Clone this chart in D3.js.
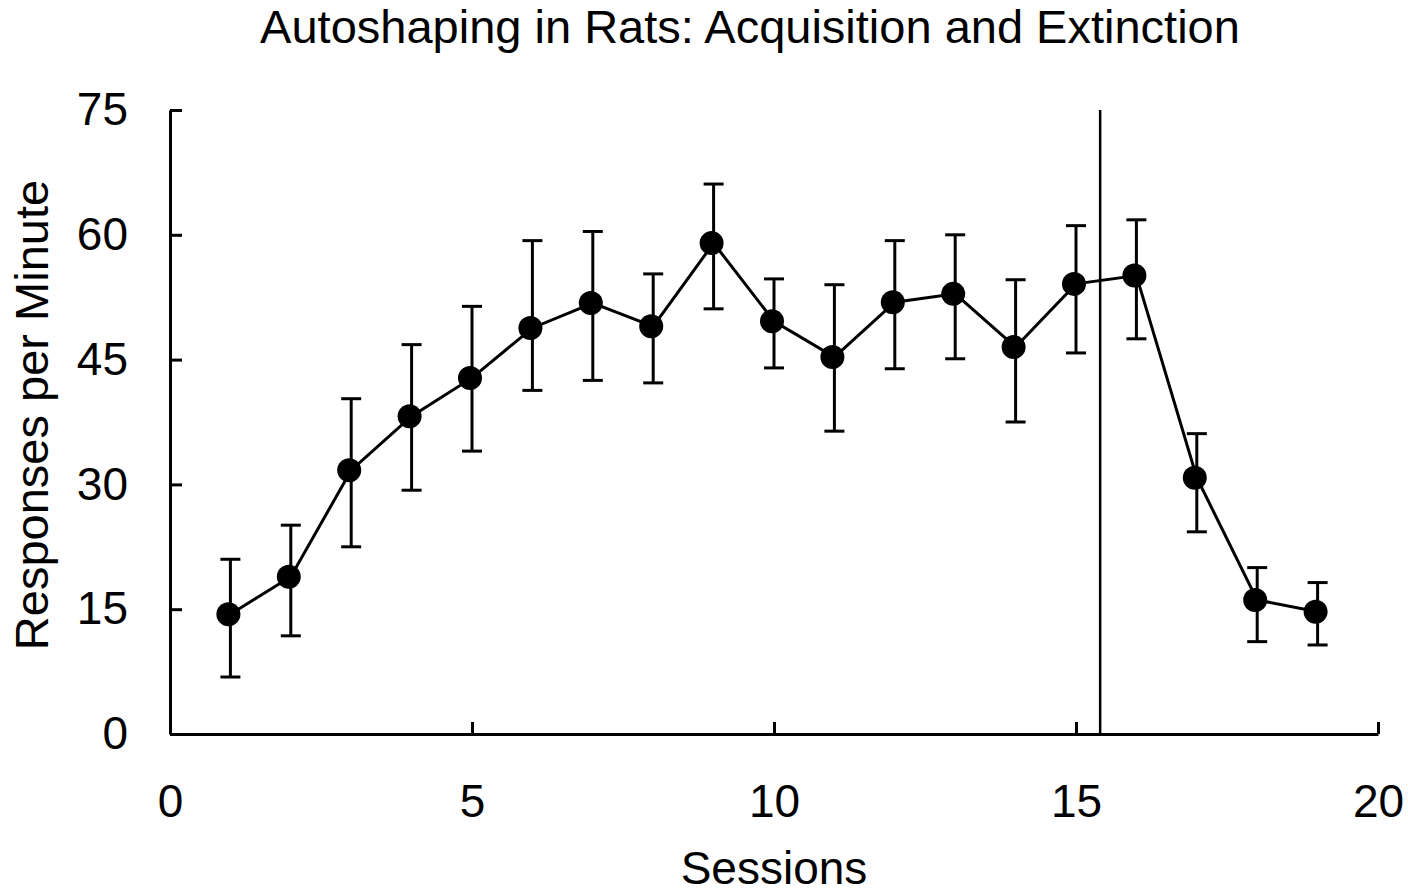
<!DOCTYPE html>
<html>
<head>
<meta charset="utf-8">
<script src="https://cdn.jsdelivr.net/npm/d3@7"></script>
<style>
  body { margin: 0; background: #fff; }
  text { font-family: "Liberation Sans", Arial, sans-serif; fill: #000; }
</style>
</head>
<body>
<svg id="chart" width="1408" height="895"></svg>
<script>
// data
var sessions = [1, 2, 3, 4, 5, 6, 7, 8, 9, 10, 11, 12, 13, 14, 15, 16, 17, 18, 19];
var meanRate = [14.4, 18.9, 31.7, 38.2, 42.8, 48.8, 51.8, 49.0, 59.0, 49.6, 45.3, 51.9, 52.9, 46.5, 54.1, 55.1, 30.8, 16.1, 14.7];
var errHigh  = [21.0, 25.1, 40.3, 46.8, 51.4, 59.3, 60.4, 55.3, 66.1, 54.7, 54.0, 59.3, 60.0, 54.6, 61.1, 61.8, 36.1, 20.0, 18.2];
var errLow   = [6.85, 11.8, 22.5, 29.3, 34.0, 41.3, 42.5, 42.2, 51.1, 44.0, 36.4, 43.9, 45.1, 37.5, 45.8, 47.5, 24.3, 11.1, 10.7];
var xTicks = [0, 5, 10, 15, 20];
var yTicks = [0, 15, 30, 45, 60, 75];
var phaseBreak = 15.4; // acquisition -> extinction

var data = sessions.map(function(s, i) {
  return { session: s, mean: meanRate[i], hi: errHigh[i], lo: errLow[i] };
});

var svg = d3.select("#chart");
var margin = { top: 110, right: 30, bottom: 161, left: 170 };
var width = 1408 - margin.left - margin.right;
var height = 895 - margin.top - margin.bottom;

var x = d3.scaleLinear().domain([0, 20]).range([0, width]);
var y = d3.scaleLinear().domain([0, 75]).range([height, 0]);

var g = svg.append("g")
  .attr("transform", "translate(" + margin.left + "," + margin.top + ")");

// axes, ticks pointing inward
var yAxis = g.append("g")
  .call(d3.axisLeft(y).tickValues(yTicks).tickSizeInner(-12).tickSizeOuter(0).tickPadding(42));
var xAxis = g.append("g")
  .attr("transform", "translate(0," + height + ")")
  .call(d3.axisBottom(x).tickValues(xTicks).tickSizeInner(-12).tickSizeOuter(0).tickPadding(50));

[yAxis, xAxis].forEach(function(ax) {
  ax.select(".domain").attr("stroke", "#000").attr("stroke-width", 3);
  ax.selectAll(".tick line").attr("stroke", "#000").attr("stroke-width", 3);
  ax.selectAll(".tick text")
    .attr("font-family", "Liberation Sans, Arial, sans-serif")
    .attr("font-size", 46)
    .attr("fill", "#000");
});

// vertical phase line
g.append("line")
  .attr("x1", x(phaseBreak)).attr("x2", x(phaseBreak))
  .attr("y1", y(75)).attr("y2", y(0))
  .attr("stroke", "#000")
  .attr("stroke-width", 2.5);

// error bars
var eb = g.append("g").attr("stroke", "#000").attr("stroke-width", 3);
eb.selectAll(".err")
  .data(data)
  .enter().append("line")
  .attr("x1", function(d) { return x(d.session); })
  .attr("x2", function(d) { return x(d.session); })
  .attr("y1", function(d) { return y(d.hi); })
  .attr("y2", function(d) { return y(d.lo); });
eb.selectAll(".cap-hi")
  .data(data)
  .enter().append("line")
  .attr("x1", function(d) { return x(d.session) - 10; })
  .attr("x2", function(d) { return x(d.session) + 10; })
  .attr("y1", function(d) { return y(d.hi); })
  .attr("y2", function(d) { return y(d.hi); });
eb.selectAll(".cap-lo")
  .data(data)
  .enter().append("line")
  .attr("x1", function(d) { return x(d.session) - 10; })
  .attr("x2", function(d) { return x(d.session) + 10; })
  .attr("y1", function(d) { return y(d.lo); })
  .attr("y2", function(d) { return y(d.lo); });

// connecting line
var line = d3.line()
  .x(function(d) { return x(d.session); })
  .y(function(d) { return y(d.mean); });
g.append("path")
  .datum(data)
  .attr("fill", "none")
  .attr("stroke", "#000")
  .attr("stroke-width", 3)
  .attr("d", line);

// markers
g.selectAll(".dot")
  .data(data)
  .enter().append("circle")
  .attr("cx", function(d) { return x(d.session) - 2; })
  .attr("cy", function(d) { return y(d.mean); })
  .attr("r", 12)
  .attr("fill", "#000");

// title and axis labels
svg.append("text")
  .attr("x", 750)
  .attr("y", 43)
  .attr("text-anchor", "middle")
  .attr("font-size", 47)
  .text("Autoshaping in Rats: Acquisition and Extinction");

svg.append("text")
  .attr("x", 774)
  .attr("y", 884)
  .attr("text-anchor", "middle")
  .attr("font-size", 46)
  .text("Sessions");

svg.append("text")
  .attr("transform", "translate(48,415) rotate(-90)")
  .attr("text-anchor", "middle")
  .attr("font-size", 47)
  .text("Responses per Minute");
</script>
</body>
</html>
